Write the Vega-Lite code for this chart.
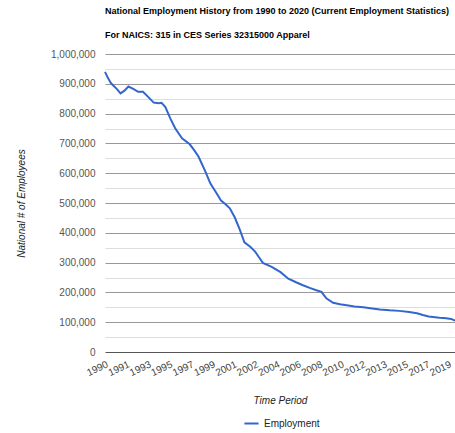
{
  "$schema": "https://vega.github.io/schema/vega-lite/v6.json",
  "width": 350,
  "height": 298,
  "autosize": {"type": "none"},
  "padding": {"left": 105, "top": 54, "right": 0, "bottom": 81},
  "background": "white",
  "config": {
    "font": "Liberation Sans",
    "view": {"stroke": null}
  },
  "title": {
    "text": ["National Employment History from 1990 to 2020 (Current Employment Statistics)", "For NAICS: 315 in CES Series 32315000 Apparel"],
    "anchor": "start",
    "frame": "group",
    "fontSize": 9,
    "fontWeight": "bold",
    "color": "#000000",
    "lineHeight": 24,
    "limit": 1000,
    "offset": 9
  },
  "data": {
    "values": [
      {"date": "1990-01-01", "employment": 940000},
      {"date": "1990-04-01", "employment": 920000},
      {"date": "1990-07-01", "employment": 903000},
      {"date": "1990-09-01", "employment": 896000},
      {"date": "1991-01-01", "employment": 883000},
      {"date": "1991-05-01", "employment": 868000},
      {"date": "1991-09-01", "employment": 877000},
      {"date": "1992-01-01", "employment": 891000},
      {"date": "1992-06-01", "employment": 883000},
      {"date": "1992-11-01", "employment": 873000},
      {"date": "1993-04-01", "employment": 873000},
      {"date": "1993-09-01", "employment": 857000},
      {"date": "1994-03-01", "employment": 837000},
      {"date": "1994-08-01", "employment": 835000},
      {"date": "1994-11-01", "employment": 836000},
      {"date": "1995-03-01", "employment": 822000},
      {"date": "1995-08-01", "employment": 784000},
      {"date": "1996-01-01", "employment": 751000},
      {"date": "1996-08-01", "employment": 717000},
      {"date": "1997-04-01", "employment": 697000},
      {"date": "1997-09-01", "employment": 675000},
      {"date": "1998-01-01", "employment": 655000},
      {"date": "1998-08-01", "employment": 605000},
      {"date": "1999-01-01", "employment": 566000},
      {"date": "1999-07-01", "employment": 535000},
      {"date": "1999-12-01", "employment": 508000},
      {"date": "2000-05-01", "employment": 495000},
      {"date": "2000-09-01", "employment": 482000},
      {"date": "2001-02-01", "employment": 452000},
      {"date": "2001-07-01", "employment": 413000},
      {"date": "2001-12-01", "employment": 368000},
      {"date": "2002-06-01", "employment": 353000},
      {"date": "2002-11-01", "employment": 337000},
      {"date": "2003-03-01", "employment": 318000},
      {"date": "2003-07-01", "employment": 299000},
      {"date": "2004-04-01", "employment": 286000},
      {"date": "2005-01-01", "employment": 268000},
      {"date": "2005-09-01", "employment": 246000},
      {"date": "2006-05-01", "employment": 234000},
      {"date": "2006-12-01", "employment": 224000},
      {"date": "2007-07-01", "employment": 215000},
      {"date": "2008-01-01", "employment": 208000},
      {"date": "2008-07-01", "employment": 202000},
      {"date": "2008-12-01", "employment": 180000},
      {"date": "2009-07-01", "employment": 165000},
      {"date": "2010-02-01", "employment": 160000},
      {"date": "2010-09-01", "employment": 157000},
      {"date": "2011-05-01", "employment": 153000},
      {"date": "2012-02-01", "employment": 150000},
      {"date": "2012-11-01", "employment": 146000},
      {"date": "2013-07-01", "employment": 143000},
      {"date": "2014-05-01", "employment": 140000},
      {"date": "2015-03-01", "employment": 138000},
      {"date": "2016-01-01", "employment": 134000},
      {"date": "2016-09-01", "employment": 130000},
      {"date": "2017-03-01", "employment": 124000},
      {"date": "2017-09-01", "employment": 119000},
      {"date": "2018-08-01", "employment": 115000},
      {"date": "2019-03-01", "employment": 113000},
      {"date": "2019-08-01", "employment": 111000},
      {"date": "2019-12-01", "employment": 105000}
    ]
  },
  "mark": {"type": "line", "strokeWidth": 2, "interpolate": "linear"},
  "encoding": {
    "x": {
      "field": "date",
      "type": "temporal",
      "scale": {"type": "utc", "domain": [{"year": 1990, "month": 1, "date": 1, "utc": true}, {"year": 2019, "month": 12, "date": 1, "utc": true}]},
      "axis": {
        "title": "Time Period",
        "titleFontStyle": "italic",
        "titleFontWeight": "normal",
        "titleFontSize": 10,
        "titleColor": "#222222",
        "titlePadding": 18,
        "values": [
          {"year": 1990, "month": 1, "date": 1, "utc": true},
          {"year": 1991, "month": 11, "date": 1, "utc": true},
          {"year": 1993, "month": 9, "date": 1, "utc": true},
          {"year": 1995, "month": 7, "date": 1, "utc": true},
          {"year": 1997, "month": 5, "date": 1, "utc": true},
          {"year": 1999, "month": 3, "date": 1, "utc": true},
          {"year": 2001, "month": 1, "date": 1, "utc": true},
          {"year": 2002, "month": 11, "date": 1, "utc": true},
          {"year": 2004, "month": 9, "date": 1, "utc": true},
          {"year": 2006, "month": 7, "date": 1, "utc": true},
          {"year": 2008, "month": 5, "date": 1, "utc": true},
          {"year": 2010, "month": 3, "date": 1, "utc": true},
          {"year": 2012, "month": 1, "date": 1, "utc": true},
          {"year": 2013, "month": 11, "date": 1, "utc": true},
          {"year": 2015, "month": 9, "date": 1, "utc": true},
          {"year": 2017, "month": 7, "date": 1, "utc": true},
          {"year": 2019, "month": 5, "date": 1, "utc": true}
        ],
        "labelExpr": "utcFormat(datum.value, '%Y')",
        "labelAngle": -25,
        "labelFontSize": 10,
        "labelColor": "#444444",
        "labelPadding": 7,
        "labelOverlap": false,
        "labelBound": false,
        "labelFlush": false,
        "ticks": false,
        "domain": false,
        "grid": false
      }
    },
    "y": {
      "field": "employment",
      "type": "quantitative",
      "scale": {"domain": [0, 1000000], "nice": false},
      "axis": {
        "title": "National # of Employees",
        "titleFontStyle": "italic",
        "titleFontWeight": "normal",
        "titleFontSize": 10,
        "titleColor": "#222222",
        "titlePadding": 24,
        "values": [0, 50000, 100000, 150000, 200000, 250000, 300000, 350000, 400000, 450000, 500000, 550000, 600000, 650000, 700000, 750000, 800000, 850000, 900000, 950000, 1000000],
        "labelExpr": "datum.value % 100000 === 0 ? format(datum.value, ',') : ''",
        "labelFontSize": 10,
        "labelColor": "#555555",
        "labelPadding": 10,
        "ticks": false,
        "domain": false,
        "grid": true,
        "gridColor": {
          "condition": [
            {"test": "datum.value === 0", "value": "#555555"},
            {"test": "datum.value % 100000 === 0", "value": "#999999"}
          ],
          "value": "#dddddd"
        },
        "gridWidth": 1
      }
    },
    "color": {
      "datum": "Employment",
      "scale": {"range": ["#3366cc"]},
      "legend": {
        "title": null,
        "orient": "none",
        "legendX": 138,
        "legendY": 361,
        "direction": "horizontal",
        "symbolType": "stroke",
        "symbolStrokeWidth": 2,
        "symbolSize": 200,
        "labelFontSize": 10,
        "labelColor": "#222222"
      }
    }
  }
}
